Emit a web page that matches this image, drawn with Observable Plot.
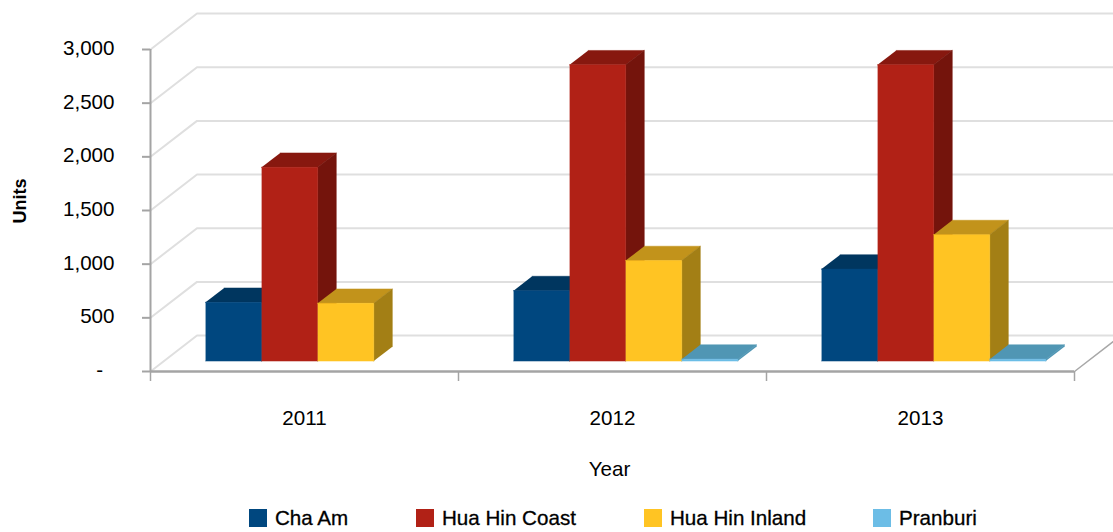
<!DOCTYPE html>
<html>
<head>
<meta charset="utf-8">
<script src="https://cdn.jsdelivr.net/npm/d3@7"></script>
<script src="https://cdn.jsdelivr.net/npm/@observablehq/plot@0.6"></script>
<style>
  html, body { margin: 0; padding: 0; background: #fff; overflow: hidden; }
  #chart svg { display: block; overflow: hidden; }
  #chart text { -webkit-text-stroke: 0.3px #000; }
  #legend {
    display: flex; height: 36px; padding-left: 249px; align-items: center;
    font: 400 20.6px "Liberation Sans", Arial, sans-serif; color: #000;
    -webkit-text-stroke: 0.3px #000;
  }
  #legend .item { display: flex; align-items: center; }
  #legend .swatch { width: 18px; height: 18px; margin-right: 8px; }
</style>
</head>
<body>
<div id="chart"></div>
<div id="legend"></div>
<script>
// Residential units by year and sub-market
const years = ["2011", "2012", "2013"];
const seriesNames = ["Cha Am", "Hua Hin Coast", "Hua Hin Inland", "Pranburi"];
const chaAm = [547, 656, 857];
const huaHinCoast = [1805, 2760, 2760];
const huaHinInland = [538, 936, 1178];
const pranburi = [0, 18, 18];
const valueTicks = [0, 500, 1000, 1500, 2000, 2500, 3000];

// Face colours for each series: front, top, side
const frontColors = ["#00477f", "#b12116", "#ffc423", "#6cbde6"];
const topColors = ["#00365f", "#87180f", "#c2931b", "#5096b4"];
const sideColors = ["#00365f", "#74140c", "#a37f15", "#5096b4"];
const seriesValues = [chaAm, huaHinCoast, huaHinInland, pranburi];

// Oblique projection: depth 1 moves a point right (in category units) and up (in value units)
const depthX = 0.151;
const depthY = 335;
const project = (x, v, z) => ({px: x + z * depthX, py: v + z * depthY});

// Bar layout inside a category, in category units and depth units
const barStart = 0.135;
const barWidth = 0.182;
const zFront = 0.29;
const zBack = 0.69;

// Each bar contributes top, side and front polygons, painted left to right
const faces = [];
function addFace(id, color, corners) {
  for (const [x, v, z] of corners) faces.push({id, color, ...project(x, v, z)});
}
years.forEach((year, c) => {
  seriesValues.forEach((values, s) => {
    const v = values[c];
    if (!v) return;
    const x0 = c + barStart + s * barWidth;
    const x1 = x0 + barWidth;
    addFace(`${year}-${s}-top`, topColors[s], [[x0, v, zFront], [x1, v, zFront], [x1, v, zBack], [x0, v, zBack]]);
    addFace(`${year}-${s}-side`, sideColors[s], [[x1, 0, zFront], [x1, v, zFront], [x1, v, zBack], [x1, 0, zBack]]);
    addFace(`${year}-${s}-front`, frontColors[s], [[x0, 0, zFront], [x1, 0, zFront], [x1, v, zFront], [x0, v, zFront]]);
  });
});

// Wall grid: from the axis back along the side wall, then across the back wall
const grid = valueTicks.flatMap((v) => [
  {v, ...project(0, v, 0)},
  {v, ...project(0, v, 1)},
  {v, ...project(3, v, 1)}
]);
const floorEdge = [project(3, 0, 0), project(3, 0, 1)];

const textFont = {fontFamily: "Liberation Sans, Arial, sans-serif"};
const inkStyle = {fill: "#000", fontSize: 20.6, ...textFont};

const chart = Plot.plot({
  width: 1113,
  height: 500,
  marginLeft: 150,
  marginRight: 39,
  marginTop: 49,
  marginBottom: 129,
  style: {background: "#fff", overflow: "hidden"},
  x: {domain: [0, 3], axis: null},
  y: {domain: [0, 3000], axis: null},
  color: {type: "identity"},
  marks: [
    Plot.line(grid, {x: "px", y: "py", z: "v", stroke: "#dfdfdf", strokeWidth: 2}),
    Plot.line(floorEdge, {x: "px", y: "py", stroke: "#a8a8a8", strokeWidth: 1.5}),
    Plot.line(faces, {x: "px", y: "py", z: "id", fill: "color", stroke: "color", strokeWidth: 0.5}),
    // Value axis: ticks, then labels with the accounting-style dash at zero
    Plot.ruleX([0], {stroke: "#a4a4a4", strokeWidth: 2}),
    Plot.axisY({
      ticks: valueTicks,
      tickSize: 8,
      stroke: "#a4a4a4",
      strokeWidth: 2,
      tickFormat: () => "",
      label: null
    }),
    Plot.axisY({
      ticks: valueTicks,
      tickSize: 0,
      tickPadding: 36,
      dy: -1,
      tickFormat: (v) => (v === 0 ? "-\u00a0\u00a0" : d3.format(",")(v)),
      label: null,
      ...textFont,
      fontSize: 20.6
    }),
    // Category axis: ticks on the boundaries, year labels between them
    Plot.ruleY([0], {stroke: "#a4a4a4", strokeWidth: 2.5}),
    Plot.axisX({ticks: [0, 1, 2, 3], tickSize: 10, stroke: "#a4a4a4", strokeWidth: 1.5, tickFormat: () => "", label: null}),
    Plot.text(years, {x: (d, i) => i + 0.5, frameAnchor: "bottom", dy: 53, ...inkStyle}),
    Plot.text(["Year"], {frameAnchor: "bottom", dy: 104, dx: -3, ...inkStyle}),
    Plot.text(["Units"], {frameAnchor: "left", rotate: -90, dx: -130, dy: 13, ...textFont, fill: "#000", fontWeight: "bold", fontSize: 18})
  ]
});
document.getElementById("chart").append(chart);

// Legend row under the chart
const itemWidths = [167, 228, 229, 120];
const legend = document.getElementById("legend");
seriesNames.forEach((name, i) => {
  const item = document.createElement("div");
  item.className = "item";
  item.style.width = itemWidths[i] + "px";
  const swatch = document.createElement("span");
  swatch.className = "swatch";
  swatch.style.background = frontColors[i];
  item.append(swatch, name);
  legend.append(item);
});
</script>
</body>
</html>
